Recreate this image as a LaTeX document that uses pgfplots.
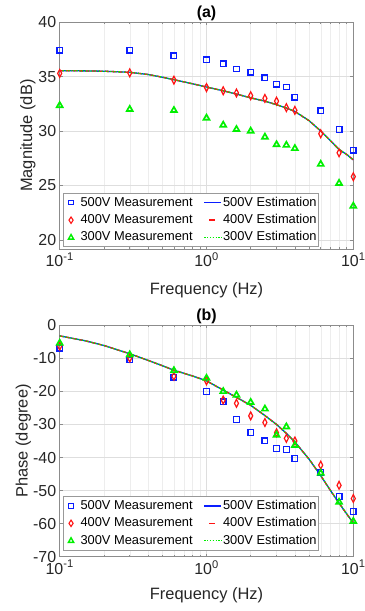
\documentclass[border=0pt]{standalone}
\usepackage{fontspec}
\setmainfont{Liberation Sans}
\usepackage{pgfplots}
\usepackage{pgfplotstable}
\pgfplotsset{compat=1.18}

\pgfplotstableread{
f     m500   m400   m300
0.1   37.44  35.30  32.35
0.3   37.44  35.35  32.00
0.6   36.92  34.68  31.90
1     36.55  34.00  31.20
1.3   36.18  33.70  30.55
1.6   35.70  33.50  30.15
2     35.40  33.25  30.00
2.5   34.90  33.00  29.45
3     34.30  32.75  28.75
3.5   34.05  32.15  28.70
4     33.10  31.90  28.40
6     31.85  29.75  26.95
8     30.15  28.00  25.20
10    28.25  25.80  23.10
}\magmeas

\pgfplotstableread{
f     e
0.1   35.55
0.15  35.53
0.2   35.50
0.3   35.40
0.4   35.20
0.5   34.95
0.6   34.72
0.8   34.35
1     34.05
1.3   33.70
1.6   33.40
2     33.05
2.5   32.75
3     32.42
3.5   32.12
4     31.80
5     30.95
6     30.00
7     29.10
8     28.30
9     27.85
10    27.35
}\magest

\pgfplotstableread{
f     p500   p400   p300
0.1   -6.9   -6.3   -5.4
0.3   -10.4  -9.9   -8.9
0.6   -15.7  -15.4  -13.7
1     -20.0  -16.8  -16.0
1.3   -23.1  -22.6  -20.0
1.6   -28.5  -23.6  -21.1
2     -32.4  -27.4  -23.3
2.5   -34.9  -29.4  -25.3
3     -37.3  -32.5  -33.2
3.5   -37.6  -34.2  -30.7
4     -40.3  -35.0  -36.3
6     -44.5  -42.3  -44.7
8     -51.8  -48.4  -53.5
10    -56.3  -52.4  -59.3
}\phmeas

\pgfplotstableread{
f     e
0.1   -3.2
0.15  -4.7
0.2   -6.1
0.3   -8.6
0.4   -10.6
0.5   -12.2
0.6   -13.6
0.8   -15.3
1     -16.8
1.3   -19.6
1.6   -21.8
2     -24.2
2.5   -27.3
3     -30.0
3.5   -32.7
4     -35.3
5     -40.5
6     -45.5
7     -50.0
8     -53.8
9     -57.0
10    -59.8
}\phest

\definecolor{mblue}{RGB}{10,30,255}
\definecolor{mred}{RGB}{255,20,20}
\definecolor{mgreen}{RGB}{0,240,0}
\definecolor{axgray}{RGB}{38,38,38}

\pgfplotsset{
  m500/.style={only marks, mark=square, mark size=2.8bp, draw=mblue, line width=1.3bp,
    mark options={solid, draw=mblue, fill=none},
    legend image code/.code={%
      \path[draw=none, fill=none] (0bp,0bp) -- (15bp,0bp);
      \draw[solid, draw=mblue, fill=none, line width=1.1bp] (4.3bp,-2.2bp) rectangle (8.7bp,2.2bp);}},
  m400/.style={only marks, mark=diamond, mark size=2.7bp, draw=mred, line width=1.2bp,
    mark options={solid, yscale=1.45, draw=mred, fill=none},
    legend image code/.code={%
      \path[draw=none, fill=none] (0bp,0bp) -- (15bp,0bp);
      \draw[solid, draw=mred, fill=none, line width=1.1bp] (6.5bp,-3.2bp) -- (8.6bp,0bp) -- (6.5bp,3.2bp) -- (4.4bp,0bp) -- cycle;}},
  m300/.style={only marks, mark=triangle, mark size=3.4bp, draw=mgreen, line width=1.7bp,
    mark options={solid, draw=mgreen, fill=none},
    legend image code/.code={%
      \path[draw=none, fill=none] (0bp,0bp) -- (15bp,0bp);
      \draw[solid, draw=mgreen, fill=none, line width=1.4bp] (6.5bp,3bp) -- (9.1bp,-1.6bp) -- (3.9bp,-1.6bp) -- cycle;}},
  e500/.style={no marks, draw=mblue, solid, line width=1.3bp},
  e400/.style={no marks, draw=mred, dash pattern=on 4bp off 2.5bp, line width=1.3bp,
    legend image code/.code={%
      \path[draw=none, fill=none] (0bp,0bp) -- (17bp,0bp);
      \draw[solid, draw=mred, line width=1.3bp] (5bp,0bp) -- (11bp,0bp);}},
  e300/.style={no marks, draw=mgreen, dash pattern=on 1.3bp off 1.5bp, line width=1.3bp},
}

\pgfplotsset{
  every axis/.append style={
    scale only axis,
    width=293.6bp,
    xmin=0.1, xmax=10,
    xtick={0.1,1,10},
    xticklabels={10\textsuperscript{-1},10\textsuperscript{0},10\textsuperscript{1}},
    xmajorgrids, ymajorgrids, xminorgrids,
    major grid style={black!13, line width=0.4bp},
    minor grid style={black!7, line width=0.4bp},
    axis line style={black!45, line width=0.6bp},
    tick style={black!45, line width=0.5bp},
    tick align=inside,
    major tick length=3bp, minor tick length=1.8bp,
    ticklabel style={font=\fontsize{16}{19}\selectfont, text=axgray},
    label style={font=\fontsize{16.5}{19}\selectfont, text=axgray},
    every axis title/.style={font=\fontsize{16}{19}\selectfont\bfseries, at={(0.5,1)}, anchor=center, yshift=9bp},
    xlabel={Frequency (Hz)},
    legend columns=3, transpose legend,
    legend cell align=left,
    legend style={at={(0,0)}, xshift=3.6bp, anchor=south west,
      draw=black!40, fill=white, line width=0.5bp,
      font=\fontsize{12.9}{15}\selectfont,
      inner xsep=1bp, inner ysep=0.5bp, row sep=0pt,
      nodes={inner xsep=1bp, text height=9.4bp, text depth=2.6bp, inner ysep=2.7bp},
      /tikz/every even column/.append style={column sep=10bp}},
  },
}

\begin{document}
\begin{tikzpicture}
\path[use as bounding box] (0,0) rectangle (365bp,611bp);
\begin{semilogxaxis}[
  at={(59.7bp,362bp)}, anchor=south west,
  height=226.7bp,
  ymin=19.15, ymax=40,
  ytick={20,25,30,35,40},
  yticklabel style={/pgf/number format/assume math mode=true},
  ylabel={Magnitude (dB)},
  ylabel style={at={(0,0.5)}, anchor=center, yshift=31.7bp},
  xlabel style={at={(0.5,0)}, anchor=center, yshift=-41.5bp},
  legend style={yshift=2bp},
  title={(a)},
]
\addplot[m500] table[x=f,y=m500] {\magmeas};
\addplot[m400] table[x=f,y=m400] {\magmeas};
\addplot[m300] table[x=f,y=m300] {\magmeas};
\addplot[e500] table[x=f,y=e] {\magest};
\addplot[e400] table[x=f,y=e] {\magest};
\addplot[e300] table[x=f,y=e] {\magest};
\legend{500V Measurement,400V Measurement,300V Measurement,500V Estimation,400V Estimation,300V Estimation}
\end{semilogxaxis}

\begin{semilogxaxis}[
  at={(59.7bp,54.3bp)}, anchor=south west,
  height=231.4bp,
  ymin=-70, ymax=0,
  ytick={-70,-60,-50,-40,-30,-20,-10,0},
  yticklabel style={/pgf/number format/assume math mode=true},
  ylabel={Phase (degree)},
  ylabel style={at={(0,0.5)}, anchor=center, yshift=36.2bp},
  xlabel style={at={(0.5,0)}, anchor=center, yshift=-38.8bp},
  legend style={yshift=6.5bp},
  title={(b)},
]
\addplot[m500] table[x=f,y=p500] {\phmeas};
\addplot[m400] table[x=f,y=p400] {\phmeas};
\addplot[m300] table[x=f,y=p300] {\phmeas};
\addplot[e500] table[x=f,y=e] {\phest};
\addplot[e400] table[x=f,y=e] {\phest};
\addplot[e300] table[x=f,y=e] {\phest};
\legend{500V Measurement,400V Measurement,300V Measurement,500V Estimation,400V Estimation,300V Estimation}
\end{semilogxaxis}
\end{tikzpicture}
\end{document}
